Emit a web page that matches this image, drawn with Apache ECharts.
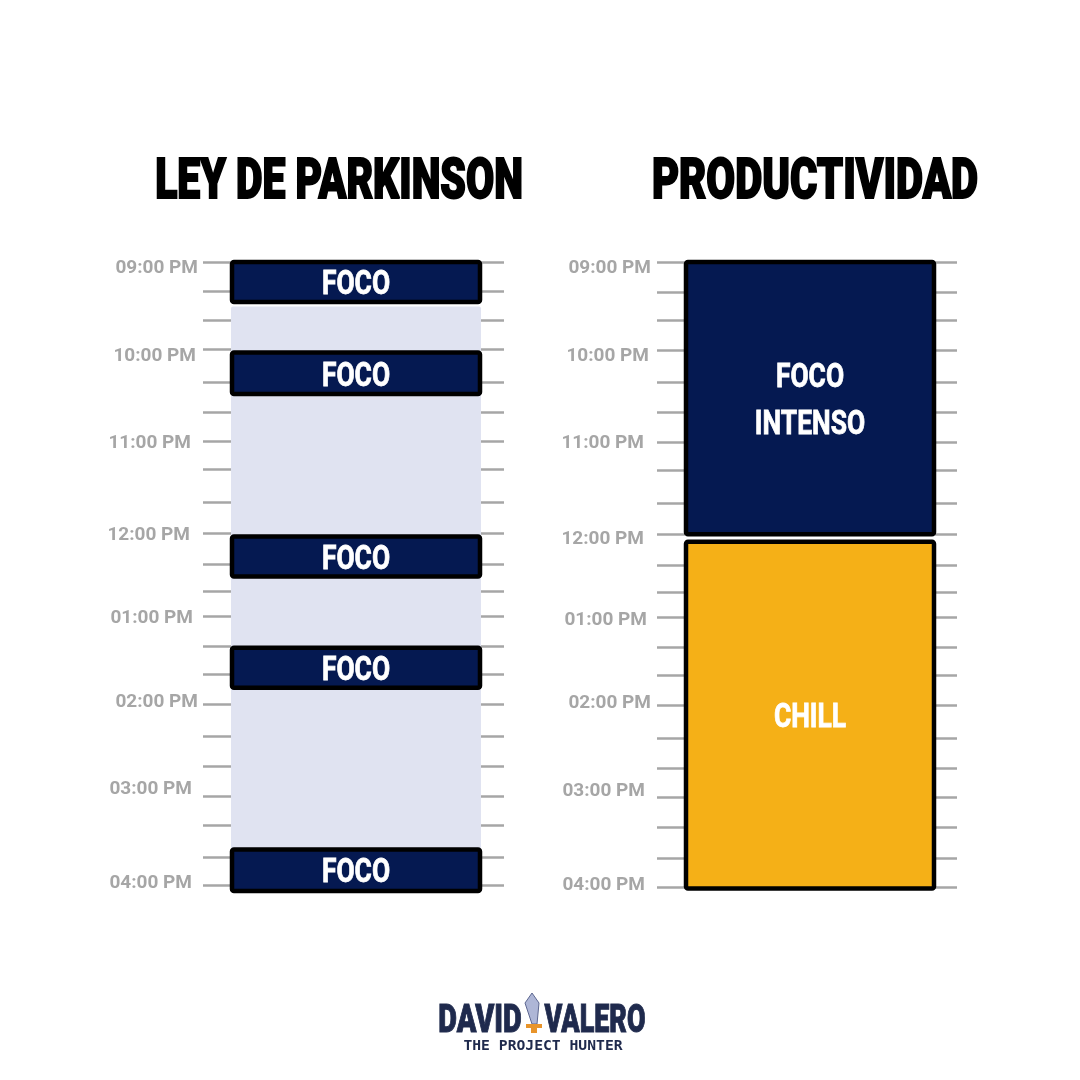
<!DOCTYPE html>
<html>
<head>
<meta charset="utf-8">
<title>Ley de Parkinson vs Productividad</title>
<script src="https://cdn.jsdelivr.net/npm/echarts@6/dist/echarts.min.js"></script>
<style>
  html, body { margin: 0; background: #fff; }
  #chart { width: 1080px; height: 1080px; }
</style>
</head>
<body>
<div id="chart"></div>
<script>
// time axis is minutes after 09:00 PM, ticks read off the picture (hand placed, not quite even)
const tickMinutes = [0, 20, 39, 59, 81, 101, 121, 140, 162, 183, 204, 222, 239, 259, 278, 298, 320, 340, 360, 380, 401, 420];
const hourLabels = ['09:00 PM', '10:00 PM', '11:00 PM', '12:00 PM', '01:00 PM', '02:00 PM', '03:00 PM', '04:00 PM'];
const leftLabelMinutes = [4.5, 63.5, 122, 184.5, 240.5, 296.5, 355.5, 419];
const rightLabelMinutes = [4.5, 63.5, 122, 186.5, 240.5, 296.5, 355.5, 419];

const focusNames = ['FOCO', 'FOCO', 'FOCO', 'FOCO', 'FOCO'];
const focusStart = [0, 61, 185, 260, 396];
const focusEnd = [27, 89, 212, 287, 424];
const idleStart = [30];
const idleEnd = [396];

const blockNames = ['FOCO\nINTENSO', 'CHILL'];
const blockStart = [0, 188];
const blockEnd = [183, 421];

const NAVY = '#051951', AMBER = '#f5b017', LAVENDER = '#e0e3f1', GREY = '#a6a6a6', INK = '#1f2a4d';
const FONT = "Roboto, 'Noto Sans', sans-serif";
// gap between label end and the bar edge, per label (the original labels are not aligned)
const leftGaps = [33, 35, 40, 41, 38, 33, 39, 39];
const rightGaps = [34, 36, 41, 41, 38, 34, 40, 40];

function labelRich(gaps) {
  const rich = {};
  gaps.forEach((g, i) => {
    rich['h' + i] = {
      color: GREY, fontFamily: FONT, fontWeight: 'bold', fontSize: 19,
      padding: [0, g, 0, 0]
    };
  });
  return rich;
}

function hourAxes(gridIndex, labelMinutes, gaps, leftLen, rightLen) {
  const tickStyle = { color: GREY, width: 2.5 };
  return [
    {
      type: 'value', gridIndex, position: 'left', inverse: true, min: 0, max: 420,
      axisLine: { show: false }, splitLine: { show: false },
      axisTick: { show: true, length: leftLen, lineStyle: tickStyle, customValues: tickMinutes },
      axisLabel: {
        show: true, margin: 0, customValues: labelMinutes, rich: labelRich(gaps),
        formatter: (v) => {
          const i = labelMinutes.indexOf(v);
          return '{h' + i + '|' + hourLabels[i] + '}';
        }
      }
    },
    {
      type: 'value', gridIndex, position: 'right', inverse: true, min: 0, max: 420,
      axisLine: { show: false }, splitLine: { show: false }, axisLabel: { show: false },
      axisTick: { show: true, length: rightLen, lineStyle: tickStyle, customValues: tickMinutes }
    }
  ];
}

function blockItem(names, fill, stroke) {
  return (params, api) => {
    const tl = api.coord([0, api.value(0)]);
    const br = api.coord([1, api.value(1)]);
    const inset = stroke ? 1 : 0;
    const x = tl[0] + inset, y = tl[1], w = br[0] - tl[0] - inset * 2, h = br[1] - tl[1];
    const colors = Array.isArray(fill) ? fill : [fill];
    return {
      type: 'group',
      children: [
        {
          type: 'rect', shape: { x, y, width: w, height: h, r: 2 },
          style: { fill: colors[params.dataIndex % colors.length], stroke: stroke || null, lineWidth: 4.5 }
        },
        {
          type: 'text', x: x + w / 2, y: y + h / 2 + 4, scaleX: 0.8,
          style: {
            text: names[params.dataIndex] || '', fill: '#fff', stroke: '#fff', lineWidth: 0.8,
            font: 'bold 33px ' + FONT, align: 'center', verticalAlign: 'middle', lineHeight: 47
          }
        }
      ]
    };
  };
}

function blockSeries(xAxisIndex, yAxisIndex, starts, ends, names, fill, stroke, z) {
  return {
    type: 'custom', xAxisIndex, yAxisIndex, z, clip: false, silent: true,
    renderItem: blockItem(names, fill, stroke),
    encode: { y: [0, 1] },
    data: starts.map((s, i) => [s, ends[i]])
  };
}

function squeezedText(text, x, y, scaleX, font, fill, strokeWidth) {
  return {
    type: 'text', x, y, scaleX,
    style: { text, font, fill, stroke: fill, lineWidth: strokeWidth, align: 'center', verticalAlign: 'middle' }
  };
}

const chart = echarts.init(document.getElementById('chart'), null, { renderer: 'canvas' });
chart.setOption({
  animation: false,
  backgroundColor: '#fff',
  grid: [
    { left: 231, top: 262, width: 250, height: 623 },
    { left: 685, top: 262, width: 250, height: 625 }
  ],
  xAxis: [
    { type: 'value', gridIndex: 0, min: 0, max: 1, show: false },
    { type: 'value', gridIndex: 1, min: 0, max: 1, show: false }
  ],
  yAxis: [
    ...hourAxes(0, leftLabelMinutes, leftGaps, 28, 23),
    ...hourAxes(1, rightLabelMinutes, rightGaps, 28, 22)
  ],
  series: [
    blockSeries(0, 0, idleStart, idleEnd, [], LAVENDER, null, 2),
    blockSeries(0, 0, focusStart, focusEnd, focusNames, NAVY, '#000', 3),
    blockSeries(1, 2, blockStart, blockEnd, blockNames, [NAVY, AMBER], '#000', 3)
  ],
  graphic: [
    // panel titles
    squeezedText('LEY DE PARKINSON', 339, 184, 0.73, '900 56px ' + FONT, '#000', 2),
    squeezedText('PRODUCTIVIDAD', 815, 184, 0.746, '900 56px ' + FONT, '#000', 2),
    // logo at the foot of the picture
    squeezedText('DAVID', 480, 1022, 0.74, '900 39px ' + FONT, INK, 1),
    squeezedText('VALERO', 595, 1022, 0.69, '900 39px ' + FONT, INK, 1),
    { type: 'text', x: 543, y: 1046, style: { text: 'THE PROJECT HUNTER', fill: INK, font: "bold 14.7px 'DejaVu Sans Mono', monospace", align: 'center', verticalAlign: 'middle' } },
    { type: 'polygon', shape: { points: [[532, 993], [539, 1003], [537, 1024], [532, 1024], [525, 1003]] }, style: { fill: '#aeb6d6', stroke: '#5d6790', lineWidth: 1 } },
    { type: 'rect', shape: { x: 526, y: 1024, width: 16, height: 4 }, style: { fill: '#e8942a' } },
    { type: 'rect', shape: { x: 531, y: 1028, width: 6, height: 5 }, style: { fill: '#e8942a' } }
  ]
});
</script>
</body>
</html>
